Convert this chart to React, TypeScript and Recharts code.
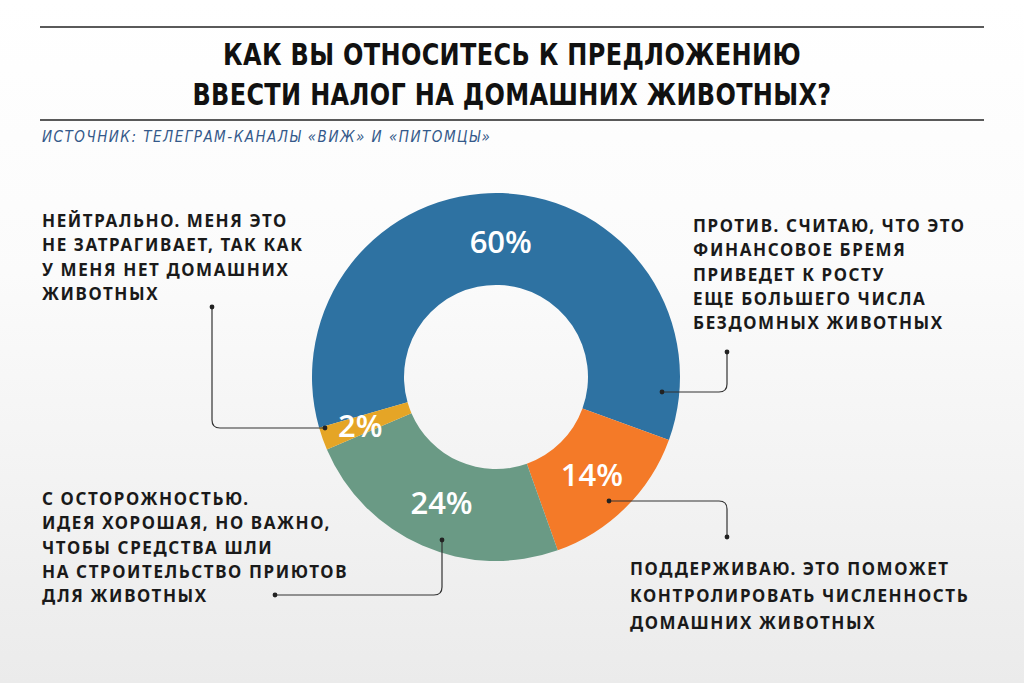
import { PieChart, Pie, Cell } from "recharts";

const answers = ["Против", "Поддерживаю", "С осторожностью", "Нейтрально"];
const shares = [60, 14, 24, 2];
const colors = ["#2e72a2", "#f47a28", "#6a9a85", "#e5a526"];

const titleLines = ["КАК ВЫ ОТНОСИТЕСЬ К ПРЕДЛОЖЕНИЮ", "ВВЕСТИ НАЛОГ НА ДОМАШНИХ ЖИВОТНЫХ?"];
const source = "ИСТОЧНИК: ТЕЛЕГРАМ-КАНАЛЫ «ВИЖ» И «ПИТОМЦЫ»";

const neutralText = ["НЕЙТРАЛЬНО. МЕНЯ ЭТО", "НЕ ЗАТРАГИВАЕТ, ТАК КАК", "У МЕНЯ НЕТ ДОМАШНИХ", "ЖИВОТНЫХ"];
const againstText = [
  "ПРОТИВ. СЧИТАЮ, ЧТО ЭТО",
  "ФИНАНСОВОЕ БРЕМЯ",
  "ПРИВЕДЕТ К РОСТУ",
  "ЕЩЕ БОЛЬШЕГО ЧИСЛА",
  "БЕЗДОМНЫХ ЖИВОТНЫХ",
];
const cautiousText = [
  "С ОСТОРОЖНОСТЬЮ.",
  "ИДЕЯ ХОРОШАЯ, НО ВАЖНО,",
  "ЧТОБЫ СРЕДСТВА ШЛИ",
  "НА СТРОИТЕЛЬСТВО ПРИЮТОВ",
  "ДЛЯ ЖИВОТНЫХ",
];
const supportText = ["ПОДДЕРЖИВАЮ. ЭТО ПОМОЖЕТ", "КОНТРОЛИРОВАТЬ ЧИСЛЕННОСТЬ", "ДОМАШНИХ ЖИВОТНЫХ"];

const W = 1024;
const H = 683;
const CX = 491;
const CY = 372;
const RADIAN = Math.PI / 180;

// leader lines, offsets from the pie centre: start dot, corner, end dot
const leaders = [
  [[-279, -65], [-279, 56], [-166, 56]],
  [[236, -20], [236, 20], [171, 20]],
  [[118, 129], [236, 129], [236, 165]],
  [[-49, 168], [-49, 223], [-216, 223]],
];

const data = answers.map((name, i) => ({ name, value: shares[i] }));

function cornerPath(pts: number[][]) {
  const [a, b, c] = pts.map(([x, y]) => [CX + x, CY + y]);
  const r = 8;
  const d1x = Math.sign(b[0] - a[0]);
  const d1y = Math.sign(b[1] - a[1]);
  const d2x = Math.sign(c[0] - b[0]);
  const d2y = Math.sign(c[1] - b[1]);
  return `M${a[0]},${a[1]} L${b[0] - d1x * r},${b[1] - d1y * r} Q${b[0]},${b[1]} ${b[0] + d2x * r},${b[1] + d2y * r} L${c[0]},${c[1]}`;
}

function renderPercent(props: any) {
  const { cx, cy, midAngle, innerRadius, outerRadius, value } = props;
  const r = (innerRadius + outerRadius) / 2 + (value < 5 ? 6 : -2);
  const x = cx + r * Math.cos(-midAngle * RADIAN);
  const y = cy + r * Math.sin(-midAngle * RADIAN);
  return (
    <text
      x={x}
      y={y}
      fill="#fff"
      textAnchor="middle"
      dominantBaseline="central"
      style={{ fontFamily: "'Open Sans', sans-serif", fontSize: 31, fontWeight: 600 }}
    >
      {`${value}%`}
    </text>
  );
}

const labelStyle: React.CSSProperties = {
  position: "absolute",
  fontFamily: "'Noto Sans', sans-serif",
  fontWeight: 700,
  fontSize: 17,
  letterSpacing: 1.6,
  color: "#1a1a1a",
  whiteSpace: "nowrap",
};

function Block({ lines, left, top, lh }: { lines: string[]; left: number; top: number; lh: number }) {
  return (
    <div style={{ ...labelStyle, left, top, lineHeight: `${lh}px` }}>
      {lines.map((l) => (
        <div key={l}>{l}</div>
      ))}
    </div>
  );
}

export default function App() {
  return (
    <div
      style={{
        position: "absolute",
        left: 0,
        top: 0,
        width: W,
        height: H,
        overflow: "hidden",
        background: "linear-gradient(to bottom, #ffffff 0%, #fbfbfb 40%, #ebebeb 100%)",
      }}
    >
      <div style={{ position: "absolute", left: 40, top: 26, width: 944, height: 2, background: "#5a5a5a" }} />
      <div
        style={{
          position: "absolute",
          left: 0,
          top: 34,
          width: W,
          textAlign: "center",
          fontFamily: "'Liberation Sans Narrow', 'DejaVu Sans Condensed', sans-serif",
          fontWeight: 700,
          fontSize: 31,
          lineHeight: "40px",
          letterSpacing: 0.4,
          color: "#111",
          transform: "scaleX(0.86)",
          transformOrigin: "512px 0",
        }}
      >
        {titleLines.map((l) => (
          <div key={l}>{l}</div>
        ))}
      </div>
      <div style={{ position: "absolute", left: 40, top: 119, width: 944, height: 2, background: "#5a5a5a" }} />
      <div
        style={{
          position: "absolute",
          left: 42,
          top: 128,
          fontFamily: "'Liberation Sans Narrow', 'DejaVu Sans Condensed', sans-serif",
          fontStyle: "italic",
          fontSize: 15,
          letterSpacing: 1.5,
          color: "#34598a",
        }}
      >
        {source}
      </div>

      <div style={{ position: "absolute", left: 0, top: 0 }}>
        <PieChart width={W} height={H}>
          <Pie
            data={data}
            dataKey="value"
            nameKey="name"
            cx={CX}
            cy={CY}
            innerRadius={92}
            outerRadius={184}
            startAngle={196}
            endAngle={-164}
            stroke="none"
            label={renderPercent}
            labelLine={false}
            isAnimationActive={false}
          >
            {data.map((d, i) => (
              <Cell key={d.name} fill={colors[i]} />
            ))}
          </Pie>
        </PieChart>
      </div>

      <svg width={W} height={H} style={{ position: "absolute", left: 0, top: 0, pointerEvents: "none" }}>
        {leaders.map((pts, i) => (
          <g key={i}>
            <path d={cornerPath(pts)} fill="none" stroke="#333" strokeWidth={1.2} />
            <circle cx={CX + pts[0][0]} cy={CY + pts[0][1]} r={2.4} fill="#222" />
            <circle cx={CX + pts[2][0]} cy={CY + pts[2][1]} r={2.4} fill="#222" />
          </g>
        ))}
      </svg>

      <Block lines={neutralText} left={42} top={209} lh={24.3} />
      <Block lines={againstText} left={693} top={214} lh={24.3} />
      <Block lines={cautiousText} left={42} top={487} lh={24.3} />
      <Block lines={supportText} left={630} top={555} lh={27} />
    </div>
  );
}
